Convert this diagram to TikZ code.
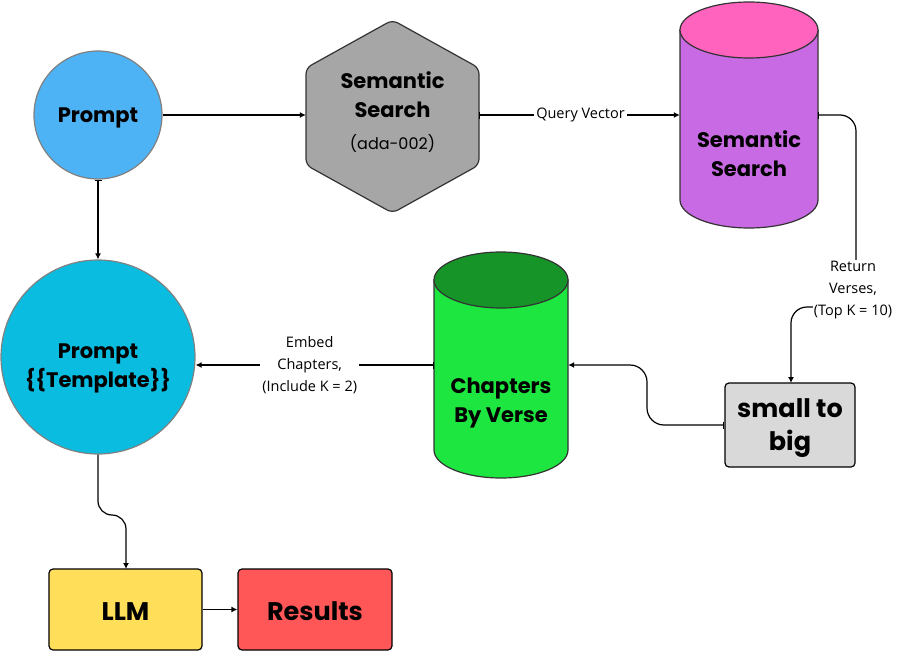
\documentclass[tikz,border=0pt]{standalone}
\usepackage{fontspec}
\setmainfont{Poppins}
\newfontfamily\lblfont{Open Sans}
\usetikzlibrary{arrows.meta}
\definecolor{cprompt}{HTML}{4EB3F5}
\definecolor{ctempl}{HTML}{0ABDE0}
\definecolor{chex}{HTML}{A6A6A6}
\definecolor{cpurp}{HTML}{C86AE3}
\definecolor{cpink}{HTML}{FF63BE}
\definecolor{cgreen}{HTML}{1EE640}
\definecolor{cdgreen}{HTML}{169428}
\definecolor{cgray}{HTML}{D9D9D9}
\definecolor{cyellow}{HTML}{FFDE59}
\definecolor{cred}{HTML}{FF5757}
\definecolor{cstroke}{HTML}{333333}
\begin{document}
\begin{tikzpicture}[x=1pt,y=-1pt,
  circ/.style={circle,draw=gray,line width=1.2pt,inner sep=0pt},
  boxn/.style={draw=black,line width=1.2pt,rounded corners=4pt,inner sep=0pt},
  btext/.style={font=\fontsize{25.5}{33}\selectfont\bfseries,align=center},
  nlabel/.style={font=\fontsize{21}{29}\selectfont\bfseries,align=center},
  elabel/.style={font=\lblfont\fontsize{14.5}{22}\selectfont,align=center,fill=white,inner sep=2pt},
  conn/.style={line width=1.2pt,-{Latex[length=6pt,width=6pt]}},
  barconn/.style={line width=1.2pt,{Bar[width=7pt,length=1pt]}-{Latex[length=6pt,width=6pt]}},
]
\useasboundingbox (0,0) rectangle (906,653);
% Prompt
\node[circ,fill=cprompt,minimum size=128pt] (prompt) at (98,115) {};
\node[nlabel] (prompttext) at (98,118) {Prompt};
% Template
\node[circ,fill=ctempl,minimum size=194pt] (templ) at (98,357) {};
\node[nlabel] (templtext) at (98,368) {Prompt\\\{\{Template\}\}};
% hexagon
\draw[fill=chex,draw=cstroke,line width=1.2pt,rounded corners=6pt]
  (392.5,20) -- (479,68) -- (479,165) -- (392.5,213) -- (306,165) -- (306,68) -- cycle;
\node[minimum width=173pt,minimum height=97pt,inner sep=0pt] (hex) at (392.5,115) {};
\node[nlabel] (hextext) at (392.5,95) {Semantic\\Search};
\node[font=\fontsize{16}{18}\selectfont] (hexsub) at (392.5,144) {(ada-002)};
% purple cylinder
\draw[fill=cpurp,draw=cstroke,line width=1.2pt] (680,30) -- (680,200) arc (180:0:69 and 28) -- (818,30) -- cycle;
\draw[fill=cpink,draw=cstroke,line width=1.2pt] (749,30) ellipse (69 and 28);
\node[minimum width=138pt,minimum height=226pt,inner sep=0pt] (scyl) at (749,115) {};
\node[nlabel] (scyltext) at (749,153.5) {Semantic\\Search};
% green cylinder
\draw[fill=cgreen,draw=cstroke,line width=1.2pt] (434,280) -- (434,450) arc (180:0:67 and 28) -- (568,280) -- cycle;
\draw[fill=cdgreen,draw=cstroke,line width=1.2pt] (501,280) ellipse (67 and 28);
\node[minimum width=134pt,minimum height=226pt,inner sep=0pt] (gcyl) at (501,365) {};
\node[nlabel] (gcyltext) at (501,403) {Chapters\\By Verse};
% boxes
\node[boxn,fill=cgray,minimum width=130pt,minimum height=84pt] (s2b) at (790,425) {};
\node[btext] (s2btext) at (790,428) {small to\\big};
\node[boxn,fill=cyellow,minimum width=153pt,minimum height=81pt] (llm) at (125.5,609.5) {};
\node[btext] (llmtext) at (125.5,611.5) {LLM};
\node[boxn,fill=cred,minimum width=154pt,minimum height=81pt] (res) at (315,609.5) {};
\node[btext] (restext) at (315,611.5) {Results};
% helper coordinates
\coordinate (r1) at (856,115);
\coordinate (r2) at (856,307);
\coordinate (r3) at (791,307);
\coordinate (r4) at (791,383);
\coordinate (g1) at (647,425);
\coordinate (g2) at (647,365);
\coordinate (t1) at (98,515);
\coordinate (t2) at (126,515);
\coordinate (t3) at (126,569);
% connectors
\draw[conn] (prompt.east) -- (hex.west);
\draw[barconn] (hex.east) -- (scyl.west)
  node[elabel,midway,xshift=1pt] (qv) {Query Vector};
\draw[barconn,rounded corners=16pt] (scyl.east) -- (r1) -- (r2) -- (r3) -- (r4);
\node[elabel,inner sep=1pt] (rv) at (853,290) {Return\\Verses,\\(Top K = 10)};
\draw[barconn,rounded corners=17pt] (s2b.west) -- (g1) -- (g2) -- (gcyl.east);
\draw[barconn] (gcyl.west) -- (templ.east |- gcyl.west)
  node[elabel,pos=0.5,xshift=-5pt] (ec) {Embed\\Chapters,\\(Include K = 2)};
\draw[barconn] (prompt.south) -- (templ.north);
\draw[conn,rounded corners=14pt] (templ.south) -- (t1) -- (t2) -- (t3);
\draw[conn] (llm.east) -- (res.west);
\end{tikzpicture}
\end{document}
